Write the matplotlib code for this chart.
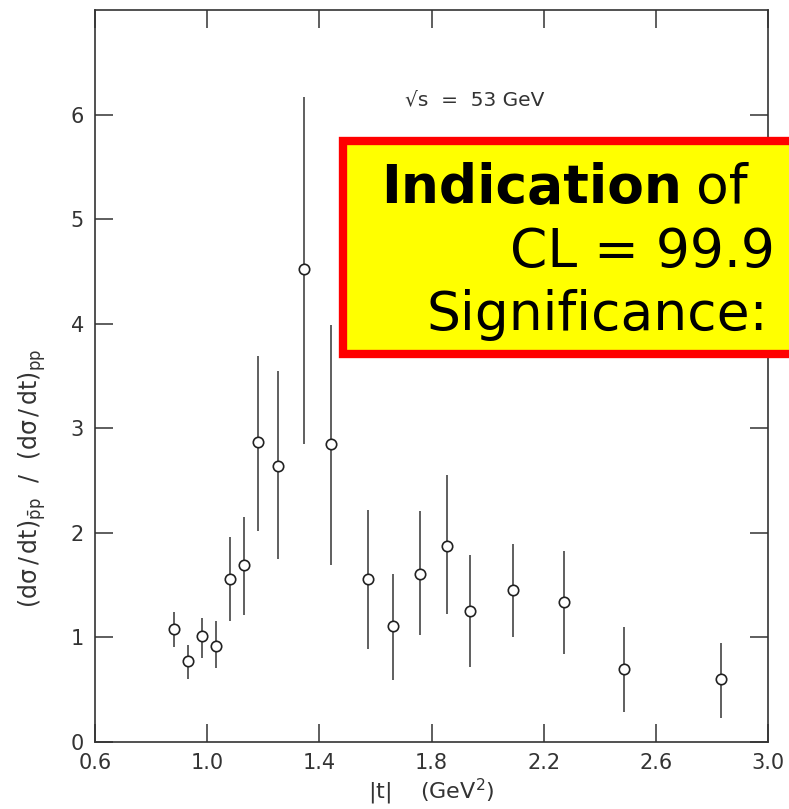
import matplotlib
matplotlib.use("Agg")
import matplotlib.pyplot as plt
from matplotlib.patches import Rectangle
import numpy as np

# data
t_vals = [0.883, 0.933, 0.981, 1.032, 1.082, 1.133, 1.180, 1.251, 1.344, 1.443,
          1.573, 1.663, 1.758, 1.856, 1.936, 2.092, 2.273, 2.485, 2.832]
ratio = [1.08, 0.77, 1.01, 0.92, 1.56, 1.69, 2.87, 2.64, 4.52, 2.85,
         1.56, 1.11, 1.61, 1.87, 1.25, 1.45, 1.34, 0.70, 0.60]
err_hi = [1.24, 0.93, 1.19, 1.16, 1.96, 2.15, 3.69, 3.55, 6.17, 3.99,
          2.22, 1.61, 2.21, 2.55, 1.79, 1.89, 1.83, 1.10, 0.95]
err_lo = [0.91, 0.60, 0.80, 0.71, 1.16, 1.21, 2.02, 1.75, 2.85, 1.69,
          0.89, 0.59, 1.02, 1.22, 0.72, 1.00, 0.84, 0.29, 0.23]
x_ticks = [0.6, 1.0, 1.4, 1.8, 2.2, 2.6, 3.0]
x_ticklabels = ["0.6", "1.0", "1.4", "1.8", "2.2", "2.6", "3.0"]
y_ticks = [0, 1, 2, 3, 4, 5, 6]

plt.rcParams['mathtext.fontset'] = 'dejavusans'
plt.rcParams['mathtext.default'] = 'regular'

fig = plt.figure(figsize=(7.89, 8.09), dpi=100)
ax = fig.add_axes([95/789, 67/809, (768-95)/789, (742-10)/809])

r = np.array(ratio)
yerr = np.vstack([r - np.array(err_lo), np.array(err_hi) - r])
ax.errorbar(t_vals, ratio, yerr=yerr, fmt='o', ms=7.5, mfc='white', mec='#222222',
            mew=1.2, ecolor='#444444', elinewidth=1.2, capsize=0, zorder=3)

ax.set_xlim(0.6, 3.0)
ax.set_ylim(0, 7.0)
ax.set_xticks(x_ticks)
ax.set_xticklabels(x_ticklabels)
ax.set_yticks(y_ticks)
ax.tick_params(direction='in', length=13, width=1.1, color='#333333',
               top=True, right=True, labelsize=15, labelcolor='#333333', pad=8)
for s in ax.spines.values():
    s.set_linewidth(1.2)
    s.set_color('#333333')

ax.set_xlabel(r'|t|    (GeV$^2$)', fontsize=16, color='#333333', labelpad=3)
ax.set_ylabel(r'$(d\sigma\,/\,dt)_{\bar{p}p}\ \ /\ \ (d\sigma\,/\,dt)_{pp}$',
              fontsize=17, color='#333333')
ax.yaxis.set_label_coords(-0.07, 0.36)

ax.text(405/789, 1 - 100/809, '\u221as  =  53 GeV', transform=fig.transFigure,
        fontsize=14.5, color='#333333', ha='left', va='center')

# highlighted box (overlay), running off the right edge as in the reference
box = Rectangle((343/789, 1 - 354/809), 0.6, (354-141)/809, transform=fig.transFigure,
                facecolor='#ffff00', edgecolor='#ff0000', linewidth=6, zorder=10,
                clip_on=False)
fig.patches.append(box)
kw = dict(transform=fig.transFigure, fontsize=38.5, color='black', ha='left',
          va='baseline', zorder=11, family='DejaVu Sans')
t1 = fig.text(381/789, 1 - 203/809, 'Indication', fontweight='bold', **kw)
fig.canvas.draw()
bb = t1.get_window_extent()
fig.text(bb.x1/789 + 14/789, 1 - 203/809, 'of', **kw)
fig.text(510/789, 1 - 267/809, 'CL = 99.9', **kw)
fig.text(427/789, 1 - 330/809, 'Significance:', **kw)

fig.savefig('out.png', dpi=100)
